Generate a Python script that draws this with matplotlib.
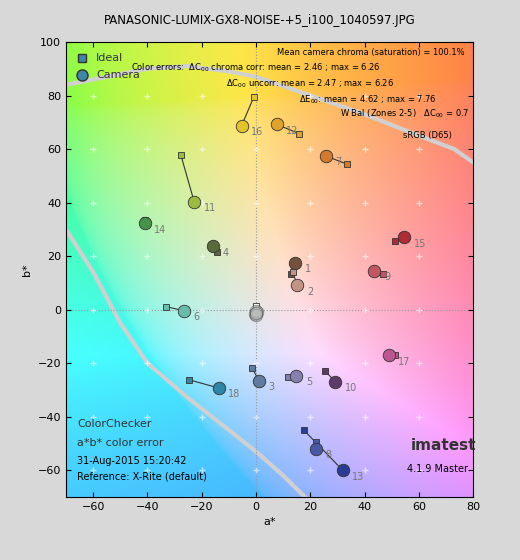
import matplotlib
matplotlib.use("Agg")
import matplotlib.pyplot as plt
import numpy as np

# patch number, ideal a*, b*, camera a*, b*, colour
patches = [1, 2, 3, 4, 5, 6, 7, 8, 9, 10, 11, 12, 13, 14, 15, 16, 17, 18]
ideal_a = [12.9, 13.5, -1.5, -14.4, 11.8, -33.0, 33.4, 22.0, 46.7, 25.4, -27.7, 15.9, 17.5, -41.0, 51.2, -0.8, 51.2, -24.7]
ideal_b = [13.3, 14.0, -21.7, 21.7, -25.1, 1.1, 54.4, -49.4, 13.3, -22.8, 57.8, 65.8, -44.9, 33.5, 25.5, 79.5, -17.1, -26.2]
cam_a = [14.4, 15.2, 1.1, -15.9, 14.8, -26.6, 25.8, 22.0, 43.6, 29.2, -22.8, 7.6, 31.9, -41.0, 54.6, -5.3, 48.9, -13.7]
cam_b = [17.5, 9.1, -26.6, 23.6, -24.7, -0.4, 57.4, -52.0, 14.4, -27.0, 40.3, 69.2, -60.0, 32.3, 27.0, 68.8, -17.1, -29.3]
colors = ["#74503f", "#c29483", "#5f7ca0", "#5a6a3a", "#8580ad", "#68bcaa",
          "#d47a2c", "#4858a4", "#c25663", "#5c3a6a", "#9dba40", "#e0a22a",
          "#2a3d94", "#46944a", "#b02c34", "#e4c22a", "#bd5690", "#2e86a6"]
neutral_a = [0.0, -0.3, 0.3, 0.0, 0.0, 0.0]
neutral_b = [1.5, -1.5, -1.0, -0.5, -2.0, -1.2]

gamut_a1 = [-70, -55, -40, -25, -10, 0, 20, 40, 60, 73, 80]
gamut_b1 = [84, 87, 90, 91, 89, 87, 80, 73, 65, 60, 55]
gamut_a2 = [-70, -60, -50, -40, -25, -10, 0, 10, 20]
gamut_b2 = [30, 14, -5, -20, -33, -45, -53, -62, -72]

# Lab -> sRGB background
def lab2rgb(L, a, b):
    fy = (L + 16) / 116
    fx = fy + a / 500
    fz = fy - b / 200
    def finv(t):
        return np.where(t > 6 / 29, t ** 3, 3 * (6 / 29) ** 2 * (t - 4 / 29))
    X = 0.95047 * finv(fx); Y = finv(fy); Z = 1.08883 * finv(fz)
    r = 3.2406 * X - 1.5372 * Y - 0.4986 * Z
    g = -0.9689 * X + 1.8758 * Y + 0.0415 * Z
    bb = 0.0557 * X - 0.2040 * Y + 1.0570 * Z
    rgb = np.stack([r, g, bb], -1)
    rgb = np.clip(rgb, 0, None)
    rgb = rgb / np.maximum(rgb.max(-1, keepdims=True), 1)
    return np.where(rgb > 0.0031308, 1.055 * rgb ** (1 / 2.4) - 0.055, 12.92 * rgb)

A, B = np.meshgrid(np.linspace(-70, 80, 300), np.linspace(-70, 100, 340))
bg = lab2rgb(88, A * 1.1, B * 1.1)
bg = 0.72 * bg + 0.28

fig = plt.figure(figsize=(5.2, 5.6), dpi=100, facecolor="#d8d8d8")
ax = fig.add_axes([0.127, 0.1125, 0.783, 0.8125])
ax.imshow(bg, extent=[-70, 80, -70, 100], origin="lower", aspect="auto", zorder=0)
ax.plot(gamut_a1, gamut_b1, color="#d0d0d0", lw=3, zorder=1)
ax.plot(gamut_a2, gamut_b2, color="#d0d0d0", lw=3, zorder=1)
ax.axvline(0, color="#999999", ls=":", lw=0.8, zorder=1)
ax.axhline(0, color="#999999", ls=":", lw=0.8, zorder=1)
gx, gy = np.meshgrid(np.arange(-60, 81, 20), np.arange(-60, 101, 20))
ax.plot(gx.ravel(), gy.ravel(), "+", color="white", ms=4, alpha=0.6, zorder=1)

for i, p in enumerate(patches):
    ax.plot([ideal_a[i], cam_a[i]], [ideal_b[i], cam_b[i]], color="#333333", lw=0.8, zorder=2)
    ax.plot(ideal_a[i], ideal_b[i], "s", ms=5, mfc=colors[i], mec="#333333", mew=0.6, zorder=3)
    ax.plot(cam_a[i], cam_b[i], "o", ms=9, mfc=colors[i], mec="#333333", mew=0.6, zorder=3)
    ax.text(cam_a[i] + 3.5, cam_b[i] - 3.5, str(p), color="#777777", fontsize=7, zorder=4)
ax.plot(neutral_a[0], neutral_b[0], "s", ms=5, mfc="white", mec="#333333", mew=0.6, zorder=3)
ax.plot(neutral_a[1:], neutral_b[1:], "o", ms=9, mfc="#bbbbbb", mec="#333333", mew=0.6, alpha=0.5, zorder=3)

ax.plot(-64, 94, "s", ms=6, mfc="#3f86a6", mec="#333333")
ax.text(-59, 94, "Ideal", fontsize=8, va="center", color="#333333")
ax.plot(-64, 87.5, "o", ms=8, mfc="#3f86a6", mec="#333333")
ax.text(-59, 87.5, "Camera", fontsize=8, va="center", color="#333333")

fs = 6
ax.text(77, 95, "Mean camera chroma (saturation) = 100.1%", ha="right", fontsize=fs)
ax.text(-46, 89.5, r"Color errors:  $\Delta$C$_{00}$ chroma corr: mean = 2.46 ; max = 6.26", fontsize=fs)
ax.text(-11, 83.5, r"$\Delta$C$_{00}$ uncorr: mean = 2.47 ; max = 6.26", fontsize=fs)
ax.text(16, 77.5, r"$\Delta$E$_{00}$: mean = 4.62 ; max = 7.76", fontsize=fs)
ax.text(31, 72, r"W Bal (Zones 2-5)   $\Delta$C$_{00}$ = 0.7", fontsize=fs)
ax.text(54, 64, "sRGB (D65)", fontsize=fs)

ax.text(-66, -44, "ColorChecker", fontsize=8, color="#333333")
ax.text(-66, -51, "a*b* color error", fontsize=8, color="#333333")
ax.text(-66, -57.5, "31-Aug-2015 15:20:42", fontsize=7)
ax.text(-66, -63.5, "Reference: X-Rite (default)", fontsize=7)
ax.text(57, -52.5, "imatest", fontsize=11, fontweight="bold", color="#333333")
ax.text(78, -60.5, "4.1.9 Master", fontsize=7, ha="right")

ax.set_xlim(-70, 80)
ax.set_ylim(-70, 100)
ax.set_xticks(np.arange(-60, 81, 20))
ax.set_yticks(np.arange(-60, 101, 20))
ax.tick_params(direction="in", top=True, right=True, labelsize=8)
ax.set_xlabel("a*", fontsize=8)
ax.set_ylabel("b*", fontsize=8)
fig.suptitle("PANASONIC-LUMIX-GX8-NOISE-+5_i100_1040597.JPG", y=0.975, fontsize=8.5)
fig.savefig("out.png", dpi=100, facecolor=fig.get_facecolor())
